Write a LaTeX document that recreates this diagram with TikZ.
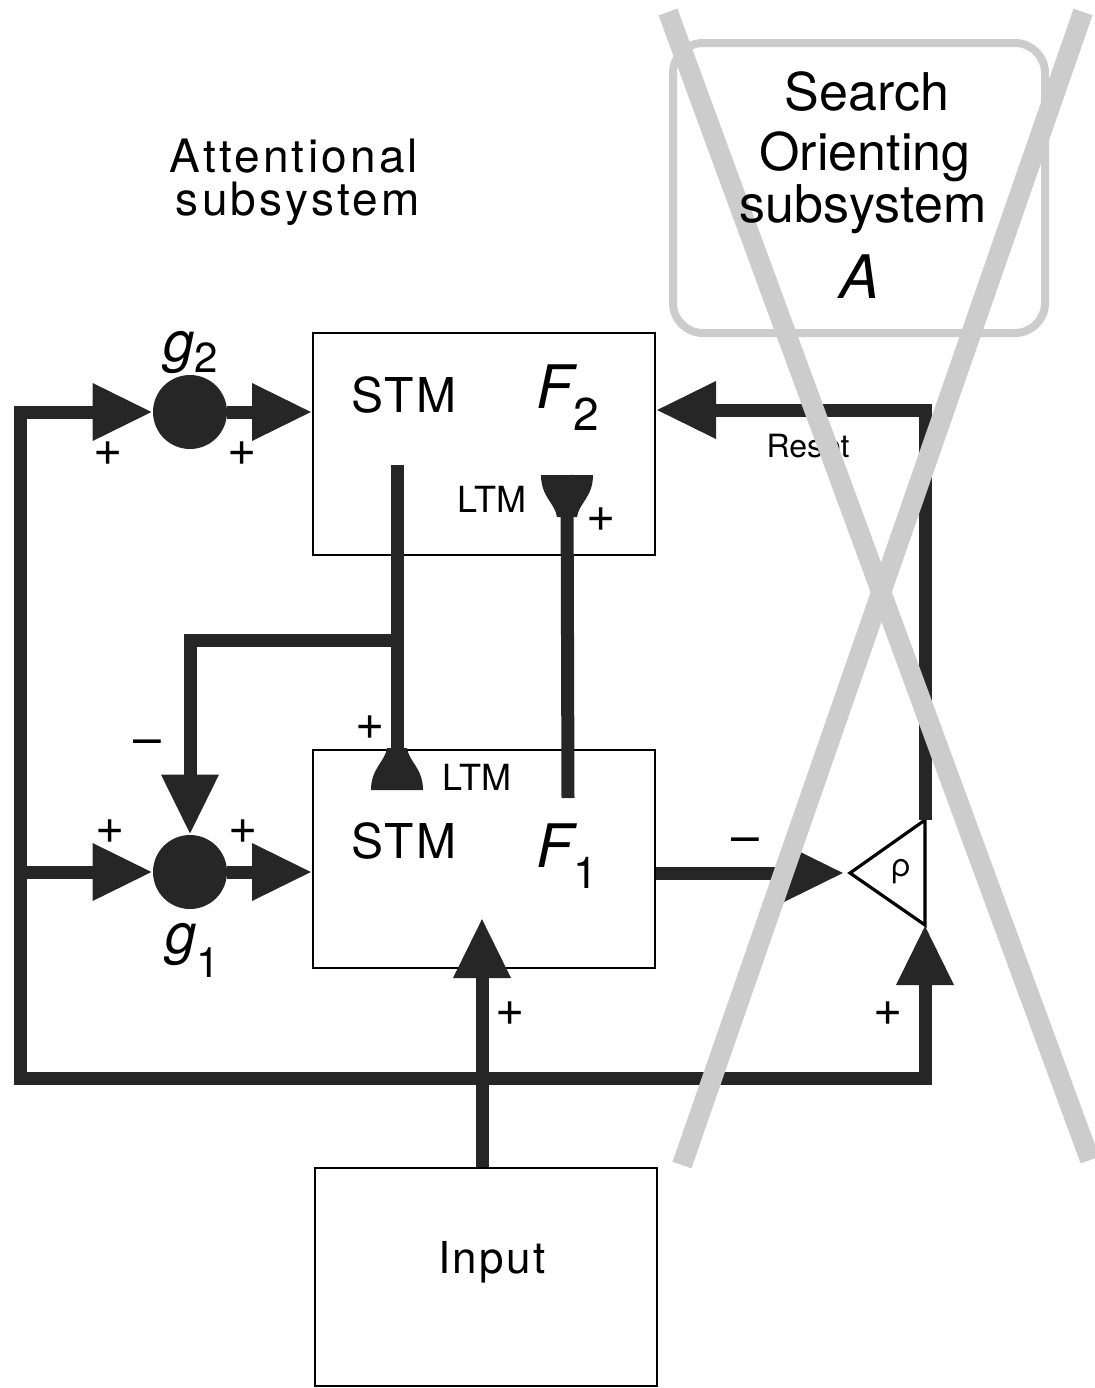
\documentclass[tikz,border=0pt]{standalone}
\usepackage{fontspec}
\setmainfont{TeX Gyre Heros}
\newfontfamily\spacedfont[LetterSpace=7]{TeX Gyre Heros}
\newfontfamily\widefont[LetterSpace=5]{TeX Gyre Heros}
\usetikzlibrary{arrows.meta}

\definecolor{wirecol}{gray}{0.15}
\definecolor{crosscol}{gray}{0.8}

\tikzset{
  ltm cup/.pic={
    \fill[wirecol] (-26,0) .. controls (-26,-22) and (-12,-28) .. (-10,-42)
      -- (10,-42) .. controls (12,-28) and (26,-22) .. (26,0) -- cycle;
  }
}

\begin{document}
\begin{tikzpicture}[x=0.5pt,y=-0.5pt,>={Triangle[length=30pt,width=27pt]},
  wire/.style={draw=wirecol,line width=6.5pt},
  block/.style={draw,line width=1pt,minimum width=171pt,inner sep=0pt},
  sum node/.style={circle,fill=wirecol,minimum size=37pt,inner sep=0pt},
  sign/.style={font=\fontsize{25}{25}\selectfont,inner sep=0pt},
  word/.style={anchor=base,inner sep=0pt},
  cross line/.style={draw=crosscol,line width=10pt}]
\useasboundingbox (0,0) rectangle (1095,1388);

% blocks
\node[block,minimum height=111pt] (F2) at (484,444) {};
\node[block,minimum height=109pt] (F1) at (484,859) {};
\node[block,minimum height=109pt] (in) at (486,1277) {};
\node[sum node] (g2) at (190,412) {};
\node[sum node] (g1) at (190,872) {};

% orienting box
\node[draw=crosscol,line width=4pt,rounded corners=15pt,minimum width=186pt,minimum height=145pt] (search) at (859,188) {};

% texts
\node[word,font=\spacedfont\fontsize{23}{23}\selectfont] (attn1) at (294,172) {Attentional};
\node[word,font=\spacedfont\fontsize{23}{23}\selectfont] (attn2) at (298,215) {subsystem};
\node[word,font=\widefont\fontsize{24}{24}\selectfont] (stm2) at (404,412) {STM};
\node[word,font=\widefont\fontsize{24}{24}\selectfont] (stm1) at (404,858) {STM};
\node[word,anchor=base west] (f2) at (536,408) {\fontsize{30}{30}\selectfont\itshape F\fontsize{23}{23}\selectfont\upshape\raisebox{-11pt}{2}};
\node[word,anchor=base west] (f1) at (536,867) {\fontsize{30}{30}\selectfont\itshape F\fontsize{22}{22}\selectfont\upshape\raisebox{-10.5pt}{1}};
\node[word,font=\fontsize{18}{18}\selectfont] (ltm2) at (492,512) {LTM};
\node[word,font=\fontsize{18}{18}\selectfont] (ltm1) at (477,790) {LTM};
\node[word,font=\widefont\fontsize{22}{22}\selectfont] (input) at (492,1273) {Input};
\node[word,font=\fontsize{16}{16}\selectfont] (reset) at (808,457) {Reset};
\node[word,anchor=base west] (g2lab) at (163,361) {\fontsize{28}{28}\selectfont\itshape g\fontsize{21}{21}\selectfont\upshape\raisebox{-5.5pt}{2}};
\node[word,anchor=base west] (g1lab) at (165,953) {\fontsize{28}{28}\selectfont\itshape g\fontsize{21}{21}\selectfont\upshape\raisebox{-12pt}{1}};

% signs
\node[sign] (p1) at (108,454) {+};
\node[sign] (p2) at (242,454) {+};
\node[sign] (p3) at (110,832) {+};
\node[sign] (p4) at (243,832) {+};
\node[sign] (p5) at (370,728) {+};
\node[sign] (p6) at (601,520) {+};
\node[sign] (p7) at (510,1014) {+};
\node[sign] (p8) at (888,1014) {+};
\node[sign] (m1) at (147,748) {--};
\node[sign] (m2) at (745,846) {--};

% points on the wires
\coordinate (ltop) at (20,412);
\coordinate (lmid) at (20,872);
\coordinate (lbot) at (20,1078);
\coordinate (rbot) at (925,1078);
\coordinate (rtip) at (850,873);
\coordinate (rup) at (925,820);
\coordinate (rlow) at (925,925);
\coordinate (rcorner) at (925,410);
\coordinate (stmout) at (397,465);
\coordinate (split) at (397,640);
\coordinate (cup1) at (397,790);
\coordinate (cup2) at (567,475);
\coordinate (ltmend) at (568,798);
\coordinate (intip) at (482,918);

% vigilance node
\draw[line width=1.6pt] (rtip) -- (rup) -- (rlow) -- cycle;
\node[font=\fontsize{16}{16}\selectfont] (rho) at (901,872) {ρ};

% LTM traces
\pic at (cup1) {ltm cup};
\pic[rotate=180] at (cup2) {ltm cup};
\draw[wire] (stmout) -- (cup1);
\draw[wire] (cup2) -- (ltmend);

% connections
\draw[wire,<->] (g2) -- (ltop) -- (lbot) -- (rbot) -- (rlow);
\draw[wire,->] (lmid) -- (g1);
\draw[wire,->] (g2) -- (g2 -| F2.west);
\draw[wire,->] (g1) -- (g1 -| F1.west);
\draw[wire,->] (split) -- (split -| g1) -- (g1);
\draw[wire,->] (in.north -| intip) -- (intip);
\draw[wire,->,shorten >=3pt] (F1.east |- rtip) -- (rtip);
\draw[wire,->] (rup) -- (rcorner) -- (rcorner -| F2.east);

% the cross over the orienting subsystem
\draw[cross line] (668,12) -- (1090,1160);
\draw[cross line] (1083,12) -- (682,1165);

\node[word,font=\fontsize{26}{26}\selectfont] (search1) at (867,110) {Search};
\node[word,font=\fontsize{26}{26}\selectfont] (search2) at (865,170) {Orienting};
\node[word,font=\fontsize{26}{26}\selectfont] (search3) at (863,222) {subsystem};
\node[word,font=\fontsize{30}{30}\selectfont\itshape] (searchA) at (860,298) {A};
\end{tikzpicture}
\end{document}
